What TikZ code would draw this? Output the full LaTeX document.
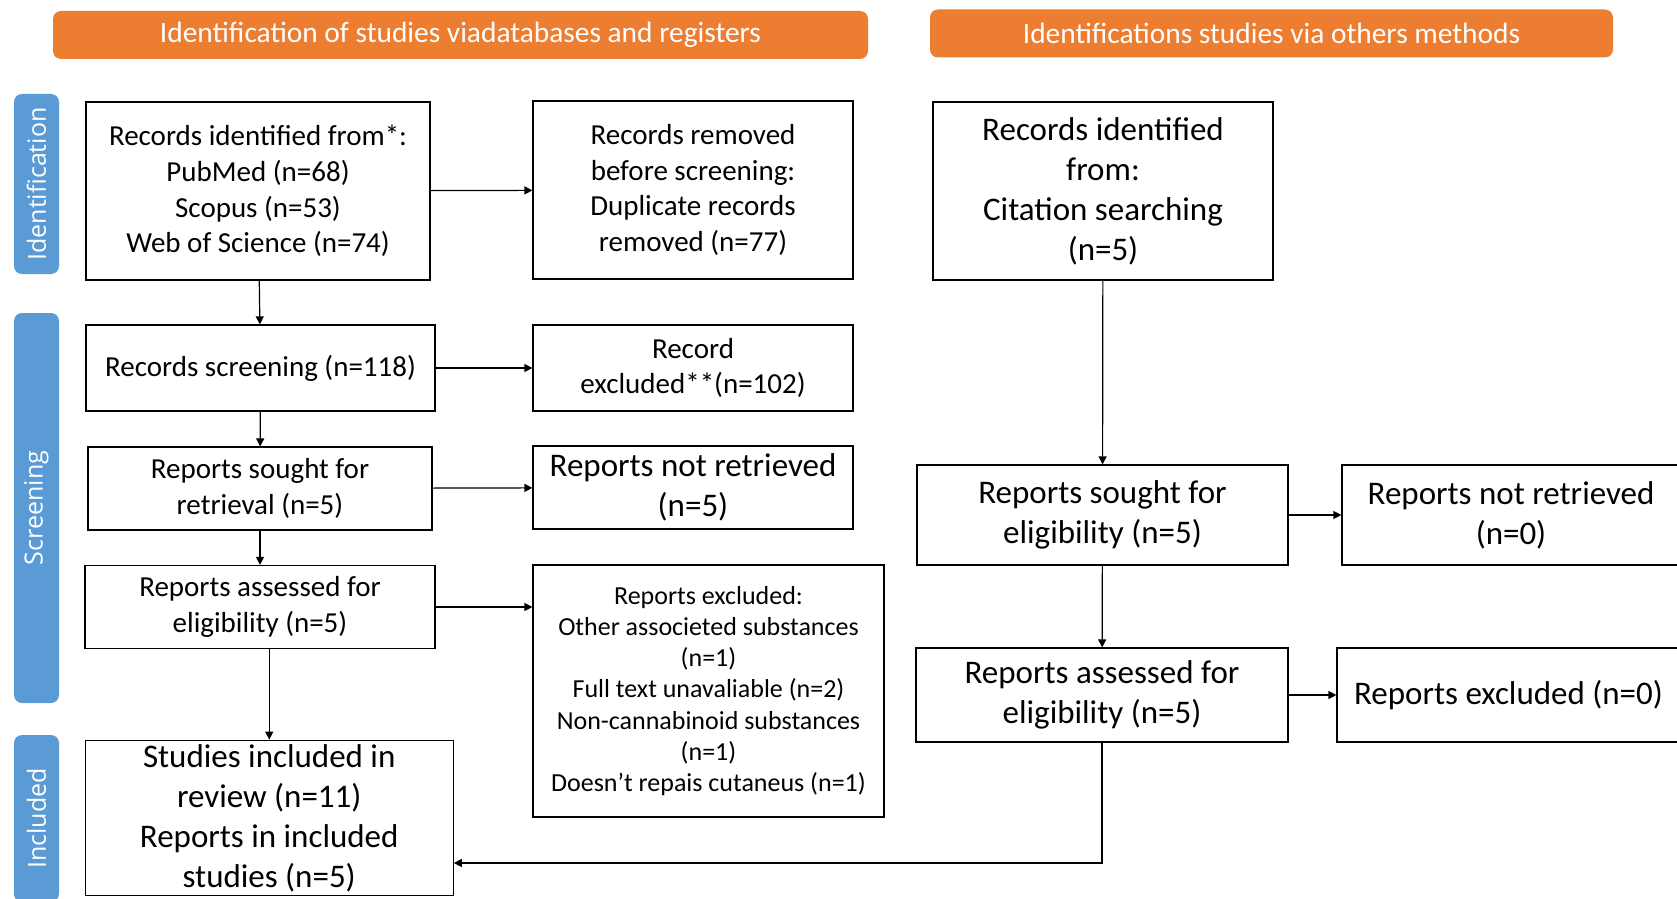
\documentclass[tikz,border=0pt]{standalone}
\usepackage{fontspec}
\setmainfont{Carlito}
\newfontfamily\sidefont{Open Sans}
\usetikzlibrary{arrows.meta}
\definecolor{prismaorange}{HTML}{ED7D31}
\definecolor{prismablue}{HTML}{5B9BD5}

\begin{document}
\begin{tikzpicture}[x=0.5pt, y=-0.5pt,
    box/.style={draw, line width=0.6pt, align=center, inner sep=2pt},
    txtS/.style={font=\fontsize{14.5}{17.8}\selectfont},
    txtM/.style={font=\fontsize{13}{15.6}\selectfont},
    txtL/.style={font=\fontsize{16.5}{20}\selectfont},
    banner/.style={fill=prismaorange, rounded corners=4pt, text=white, font=\fontsize{14.7}{17}\selectfont, minimum height=24pt},
    phase/.style={fill=prismablue, rounded corners=4pt, text=white, rotate=90, font=\sidefont\fontsize{12.5}{15}\selectfont, minimum height=22.5pt},
    arr/.style={-{Triangle[length=4pt, width=4pt]}, line width=0.6pt}]
\useasboundingbox (0,0) rectangle (1677,899);

% headers
\node[banner, minimum width=407.5pt] (headDb) at (460.5,35) {Identification of studies viadatabases and registers};
\node[banner, minimum width=341.5pt] (headOther) at (1271.5,33.5) {Identifications studies via others methods};

% phases
\node[phase, minimum width=90pt] (phIdent) at (36.5,184) {Identification};
\node[phase, minimum width=195pt] (phScreen) at (36.5,508) {Screening};
\node[phase, minimum width=83.5pt] (phIncl) at (36.5,818.5) {Included};

% databases and registers
\node[box, txtS, minimum width=172pt, minimum height=89pt] (recId) at (258,191)
    {Records identified from*:\\PubMed (n=68)\\Scopus (n=53)\\Web of Science (n=74)};
\node[box, txtS, minimum width=160pt, minimum height=89pt] (recRem) at (693,190)
    {Records removed\\before screening:\\Duplicate records\\removed (n=77)};
\node[box, txtS, minimum width=174.5pt, minimum height=43pt] (recScr) at (260.5,368)
    {Records screening (n=118)};
\node[box, txtS, minimum width=160pt, minimum height=43pt] (recExc) at (693,368)
    {Record\\excluded**(n=102)};
\node[box, txtS, minimum width=172pt, minimum height=41.5pt] (repSought) at (260,488.5)
    {Reports sought for\\retrieval (n=5)};
\node[box, txtL, minimum width=160pt, minimum height=41.5pt] (repNot) at (693,487.5)
    {Reports not retrieved\\(n=5)};
\node[box, txtS, minimum width=175pt, minimum height=41.5pt] (repAss) at (260,607)
    {Reports assessed for\\eligibility (n=5)};
\node[box, txtM, minimum width=175.5pt, minimum height=126pt] (repExc) at (708.5,691)
    {Reports excluded:\\Other associeted substances\\(n=1)\\Full text unavaliable (n=2)\\Non-cannabinoid substances\\(n=1)\\Doesn’t repais cutaneus (n=1)};
\node[box, txtL, minimum width=184pt, minimum height=76pt] (included) at (269.25,818)
    {Studies included in\\review (n=11)\\Reports in included\\studies (n=5)};

% other methods
\node[box, txtL, minimum width=170pt, minimum height=89pt] (citId) at (1103,191)
    {Records identified\\from:\\Citation searching\\(n=5)};
\node[box, txtL, minimum width=185.5pt, minimum height=50pt] (citSought) at (1102.5,515)
    {Reports sought for\\eligibility (n=5)};
\node[box, txtL, minimum width=169pt, minimum height=50pt] (citNot) at (1511,515)
    {Reports not retrieved\\(n=0)};
\node[box, txtL, minimum width=186pt, minimum height=47pt] (citAss) at (1102,695)
    {Reports assessed for\\eligibility (n=5)};
\node[box, txtL, minimum width=171.5pt, minimum height=47pt] (citExc) at (1508.5,695)
    {Reports excluded (n=0)};
\coordinate (citJoin) at (1102,863);

% connectors
\draw[arr] (recId) -- (recRem);
\draw[arr] (recId) -- (recScr);
\draw[arr] (recScr) -- (recExc);
\draw[arr] (recScr) -- (repSought);
\draw[arr] (repSought) -- (repNot);
\draw[arr] (repSought) -- (repAss);
\draw[arr] (repAss.east) -- (repAss.east -| repExc.west);
\draw[arr] (repAss.south -| included.north) -- (included.north);
\draw[arr] (citId) -- (citSought);
\draw[arr] (citSought) -- (citNot);
\draw[arr] (citSought) -- (citAss);
\draw[arr] (citAss) -- (citExc);
\draw[arr] (citAss.south) -- (citJoin) -- (citJoin -| included.east);
\end{tikzpicture}
\end{document}
